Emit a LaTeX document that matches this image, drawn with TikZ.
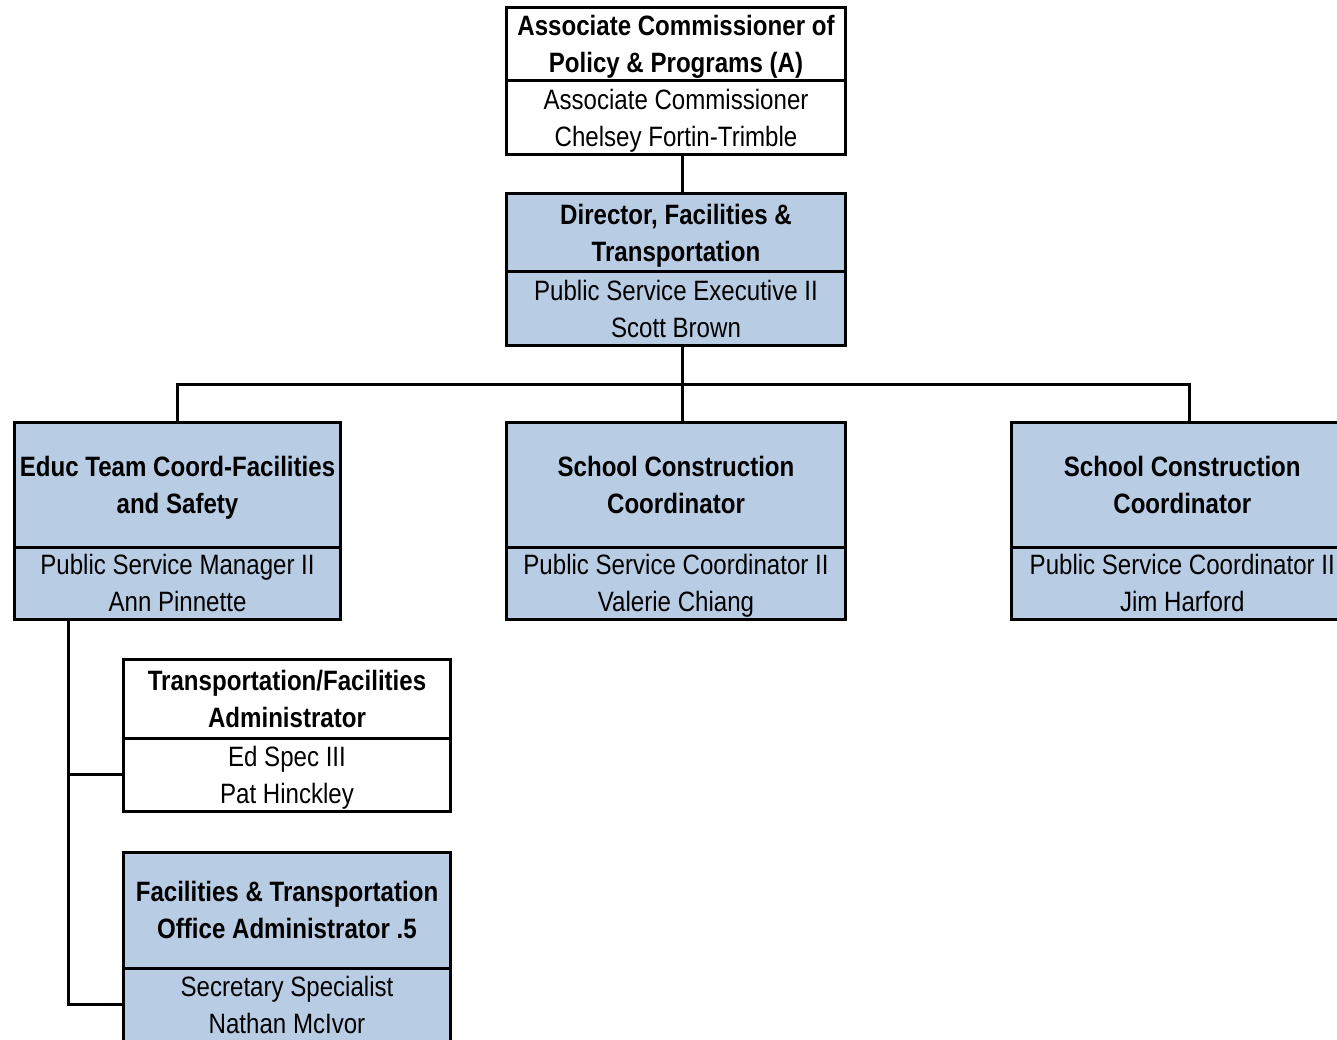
\documentclass[tikz,border=0pt]{standalone}
\usepackage{fontspec}
\setmainfont{Liberation Sans}[FakeStretch=0.86]
\definecolor{boxblue}{RGB}{184,204,228}
\newcommand{\ls}{\rule[-6pt]{0pt}{32pt}}
\newcommand{\lsb}{\rule[-15pt]{0pt}{41pt}}
\begin{document}
\begin{tikzpicture}[x=1pt,y=-1pt,
  sec/.style={draw=black, line width=3pt, inner sep=0pt, outer sep=0pt, align=center, font=\fontsize{28}{37}\selectfont},
  ttl/.style={sec, font=\fontsize{28}{37}\selectfont\bfseries},
  bluebox/.style={fill=boxblue},
  whitebox/.style={fill=white},
  conn/.style={line width=3pt}]
\fill[white] (0,0) rectangle (1337,1040);
\useasboundingbox (0,0) rectangle (1337,1040);
\clip (0,0) rectangle (1337,1040);

% top box
\node[ttl, whitebox, minimum width=339, minimum height=73.5] (t1) at (676,44.25) {\ls Associate Commissioner of\\\ls Policy \& Programs (A)};
\node[sec, whitebox, minimum width=339, minimum height=73.5] (t2) at (676,117.75) {\ls Associate Commissioner\\\ls Chelsey Fortin-Trimble};

% director
\node[ttl, bluebox, minimum width=339, minimum height=78.5] (d1) at (676,232.75) {\ls Director, Facilities \&\\\ls Transportation};
\node[sec, bluebox, minimum width=339, minimum height=73.5] (d2) at (676,308.75) {\ls Public Service Executive II\\\ls Scott Brown};

% left
\node[ttl, bluebox, minimum width=326, minimum height=124.5] (e1) at (177.5,484.75) {\ls Educ Team Coord-Facilities\\\ls and Safety};
\node[sec, bluebox, minimum width=326, minimum height=72.5] (e2) at (177.5,583.25) {\ls Public Service Manager II\\\ls Ann Pinnette};

% middle
\node[ttl, bluebox, minimum width=339, minimum height=124.5] (s1) at (676,484.75) {\ls School Construction\\\ls Coordinator};
\node[sec, bluebox, minimum width=339, minimum height=72.5] (s2) at (676,583.25) {\ls Public Service Coordinator II\\\ls Valerie Chiang};

% right
\node[ttl, bluebox, minimum width=341.5, minimum height=124.5] (r1) at (1182.25,484.75) {\ls School Construction\\\ls Coordinator};
\node[sec, bluebox, minimum width=341.5, minimum height=72.5] (r2) at (1182.25,583.25) {\ls Public Service Coordinator II\\\ls Jim Harford};

% transportation
\node[ttl, whitebox, minimum width=327, minimum height=78.5] (p1) at (287,698.75) {\ls Transportation/Facilities\\\ls Administrator};
\node[sec, whitebox, minimum width=327, minimum height=73.5] (p2) at (287,774.75) {\ls Ed Spec III\\\ls Pat Hinckley};

% facilities
\node[ttl, bluebox, minimum width=327, minimum height=115.5] (f1) at (287,910.25) {\ls Facilities \& Transportation\\\ls Office Administrator .5};
\node[sec, bluebox, minimum width=327, minimum height=82] (f2) at (287,1009) {\ls Secretary Specialist\\\lsb Nathan McIvor};

% connectors
\coordinate (hub) at (682,384);
\draw[conn] ([xshift=6pt]t2.south) -- ([xshift=6pt]d1.north);
\draw[conn] ([xshift=6pt]d2.south) -- (hub);
\draw[conn] (e1.north) |- ([xshift=6.75pt]r1.north |- hub) -- ([xshift=6.75pt]r1.north);
\draw[conn] (hub) -- ([xshift=6pt]s1.north);
\draw[conn] ([xshift=-109.5pt]e2.south) |- ([yshift=5pt]f2.west);
\draw[conn] (p2.west) -| ([xshift=-109.5pt]e2.south);
\end{tikzpicture}
\end{document}
